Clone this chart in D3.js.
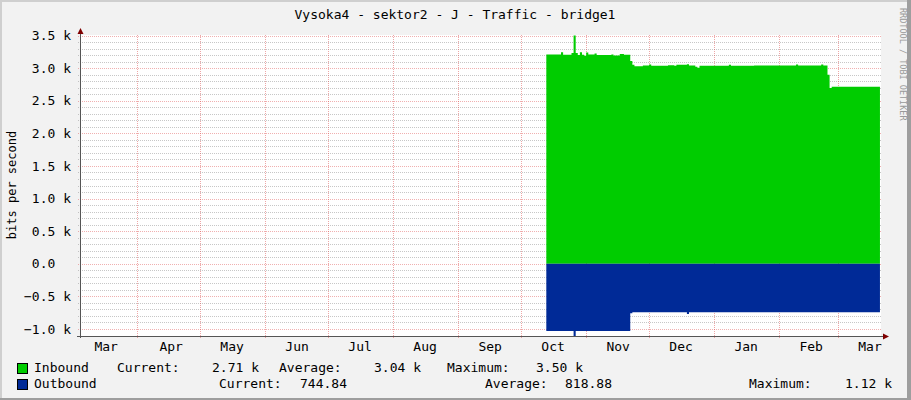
<!DOCTYPE html>
<html>
<head>
<meta charset="utf-8">
<title>Vysoka4 - sektor2 - J - Traffic - bridge1</title>
<script src="https://d3js.org/d3.v7.min.js"></script>
<style>
  * { margin: 0; padding: 0; }
  body { width: 911px; height: 400px; overflow: hidden; background: #f2f2f2; }
  text { font-family: "DejaVu Sans Mono", monospace; font-size: 13px; fill: #000; }
  .grid line { shape-rendering: crispEdges; stroke-dasharray: 1,1; }
  .axis text { font-family: "DejaVu Sans Mono", monospace; font-size: 13px; }
</style>
</head>
<body>
<script>
// ---- data ----
var titleText = "Vysoka4 - sektor2 - J - Traffic - bridge1";
var yTitle = "bits per second";

var yTicks = [-1000, -500, 0, 500, 1000, 1500, 2000, 2500, 3000, 3500];
var monthLabels = ["2013-03-17", "2013-04-17", "2013-05-16", "2013-06-16", "2013-07-16", "2013-08-16",
                   "2013-09-16", "2013-10-16", "2013-11-16", "2013-12-16", "2014-01-16", "2014-02-16", "2014-03-16"];

// inbound bits/s, [date, value]
var inbound = [
  ["2013-10-13", 3210], ["2013-10-20", 3245], ["2013-10-21", 3205], ["2013-10-25", 3230],
  ["2013-10-26", 3500], ["2013-10-27", 3230], ["2013-10-28", 3200], ["2013-10-29", 3245],
  ["2013-10-30", 3205], ["2013-10-31", 3190], ["2013-11-01", 3240], ["2013-11-02", 3210],
  ["2013-11-05", 3225], ["2013-11-06", 3200], ["2013-11-13", 3210], ["2013-11-14", 3195],
  ["2013-11-17", 3215], ["2013-11-19", 3205], ["2013-11-22", 3110], ["2013-11-23", 3050],
  ["2013-11-24", 3030], ["2013-11-28", 3040], ["2013-12-01", 3055], ["2013-12-02", 3035],
  ["2013-12-10", 3045], ["2013-12-13", 3035], ["2013-12-14", 3050], ["2013-12-19", 3060],
  ["2013-12-20", 3040], ["2013-12-23", 3020], ["2013-12-24", 3005], ["2013-12-25", 3035],
  ["2014-01-08", 3050], ["2014-01-09", 3035], ["2014-01-20", 3040], ["2014-02-09", 3055],
  ["2014-02-10", 3040], ["2014-02-21", 3055], ["2014-02-22", 3040], ["2014-02-24", 2900],
  ["2014-02-25", 2695], ["2014-02-26", 2715], ["2014-03-21", 2710]
];

// outbound bits/s (drawn below zero)
var outbound = [
  ["2013-10-13", 1030], ["2013-10-26", 1120], ["2013-10-27", 1030], ["2013-11-22", 760],
  ["2013-11-23", 745], ["2013-12-19", 770], ["2013-12-20", 745], ["2014-03-21", 745]
];

var inStats = ["2.71 k", "3.04 k", "3.50 k"];
var outStats = ["744.84", "818.88", "1.12 k"];

var inColor = "#00cc00";
var outColor = "#002a97";

// ---- chart ----
var W = 911, H = 400;
var parse = d3.timeParse("%Y-%m-%d");
var inRows = inbound.map(function (d) { return { date: parse(d[0]), value: d[1] }; });
var outRows = outbound.map(function (d) { return { date: parse(d[0]), value: -d[1] }; });

var x = d3.scaleTime()
  .domain([new Date(2013, 2, 5, 6), new Date(2014, 2, 21, 12)])
  .range([81, 881]);
var y = d3.scaleLinear().domain([-1100, 3500]).range([335.5, 35.5]);

var svg = d3.select("body").append("svg").attr("width", W).attr("height", H);

// frame
svg.append("rect").attr("width", W).attr("height", H).attr("fill", "#f2f2f2");
svg.append("rect").attr("x", 0).attr("y", 0).attr("width", W).attr("height", 2).attr("fill", "#cfcfcf");
svg.append("rect").attr("x", 0).attr("y", 0).attr("width", 2).attr("height", H).attr("fill", "#cfcfcf");
svg.append("rect").attr("x", 0).attr("y", H - 2).attr("width", W).attr("height", 2).attr("fill", "#9e9e9e");
svg.append("rect").attr("x", W - 4).attr("y", 0).attr("width", 4).attr("height", H).attr("fill", "#9e9e9e");

// canvas
svg.append("rect").attr("x", 81).attr("y", 35).attr("width", 800).attr("height", 301).attr("fill", "#fff");

// grid
var grid = svg.append("g").attr("class", "grid");
var minor = d3.range(-1100, 3501, 100).filter(function (v) { return v % 500 !== 0; });
grid.selectAll("line.minor").data(minor).enter().append("line")
  .attr("class", "minor")
  .attr("x1", 78).attr("x2", 881)
  .attr("y1", function (d) { return Math.round(y(d)) + 0.5; })
  .attr("y2", function (d) { return Math.round(y(d)) + 0.5; })
  .attr("stroke", "#8f8f8f").attr("stroke-opacity", 0.5);
grid.selectAll("line.major").data(yTicks).enter().append("line")
  .attr("class", "major")
  .attr("x1", 78).attr("x2", 881)
  .attr("y1", function (d) { return Math.round(y(d)) + 0.5; })
  .attr("y2", function (d) { return Math.round(y(d)) + 0.5; })
  .attr("stroke", "#de5050").attr("stroke-opacity", 0.45);
var monthStarts = d3.timeMonth.range(new Date(2013, 3, 1), new Date(2014, 2, 2));
grid.selectAll("line.vert").data(monthStarts).enter().append("line")
  .attr("class", "vert")
  .attr("y1", 35).attr("y2", 339)
  .attr("x1", function (d) { return Math.round(x(d)) + 0.5; })
  .attr("x2", function (d) { return Math.round(x(d)) + 0.5; })
  .attr("stroke", "#de5050").attr("stroke-opacity", 0.5);

// areas
var inArea = d3.area()
  .x(function (d) { return x(d.date); })
  .y0(y(0))
  .y1(function (d) { return y(d.value); })
  .curve(d3.curveStepAfter);
svg.append("path").attr("d", inArea(inRows)).attr("fill", inColor);
svg.append("path").attr("d", inArea(outRows)).attr("fill", outColor);

// axes lines + arrows
svg.append("line").attr("x1", 80.5).attr("x2", 80.5).attr("y1", 338).attr("y2", 32)
  .attr("stroke", "#555").attr("shape-rendering", "crispEdges");
svg.append("line").attr("x1", 77).attr("x2", 884).attr("y1", 336.5).attr("y2", 336.5)
  .attr("stroke", "#555").attr("shape-rendering", "crispEdges");
svg.append("path").attr("d", "M77.5,34 L80.5,28 L83.5,34 Z").attr("fill", "#7f0000");
svg.append("path").attr("d", "M883,333.5 L889,336.5 L883,339.5 Z").attr("fill", "#7f0000");

// y labels
var yAxis = d3.axisLeft(y).tickValues(yTicks).tickSize(0).tickPadding(9)
  .tickFormat(function (d) { return d === 0 ? "0.0  " : d3.format(".1f")(d / 1000) + " k"; });
var gy = svg.append("g").attr("class", "axis").attr("transform", "translate(80,0)").call(yAxis);
gy.select(".domain").remove();
gy.selectAll("text").attr("xml:space", "preserve").style("white-space", "pre").attr("fill", "#000");

// x labels
var xAxis = d3.axisBottom(x).tickValues(monthLabels.map(parse)).tickSize(0).tickPadding(6)
  .tickFormat(d3.timeFormat("%b"));
var gx = svg.append("g").attr("class", "axis").attr("transform", "translate(0,336)").call(xAxis);
gx.select(".domain").remove();
gx.selectAll("text").attr("fill", "#000");

// titles
svg.append("text").attr("x", 455).attr("y", 19).attr("text-anchor", "middle").text(titleText);
svg.append("text").attr("transform", "translate(16,185) rotate(-90)").attr("text-anchor", "middle")
  .style("font-size", "12px").text(yTitle);
svg.append("text").attr("transform", "translate(900,8) rotate(90)")
  .style("font-size", "8.5px").style("fill", "#999").text("RRDTOOL / TOBI OETIKER");

// legend
var legend = svg.append("g");
legend.append("rect").attr("x", 17.5).attr("y", 363.5).attr("width", 10).attr("height", 10)
  .attr("fill", inColor).attr("stroke", "#000");
legend.append("rect").attr("x", 17.5).attr("y", 379.5).attr("width", 10).attr("height", 10)
  .attr("fill", outColor).attr("stroke", "#000");

function lt(xp, yp, s, anchor) {
  legend.append("text").attr("x", xp).attr("y", yp).attr("text-anchor", anchor || "start").text(s);
}
lt(34, 372, "Inbound");
lt(117, 372, "Current:");
lt(259, 372, inStats[0], "end");
lt(279, 372, "Average:");
lt(421, 372, inStats[1], "end");
lt(447, 372, "Maximum:");
lt(583, 372, inStats[2], "end");

lt(34, 388, "Outbound");
lt(219, 388, "Current:");
lt(347, 388, outStats[0], "end");
lt(485, 388, "Average:");
lt(612, 388, outStats[1], "end");
lt(749, 388, "Maximum:");
lt(892, 388, outStats[2], "end");
</script>
</body>
</html>
